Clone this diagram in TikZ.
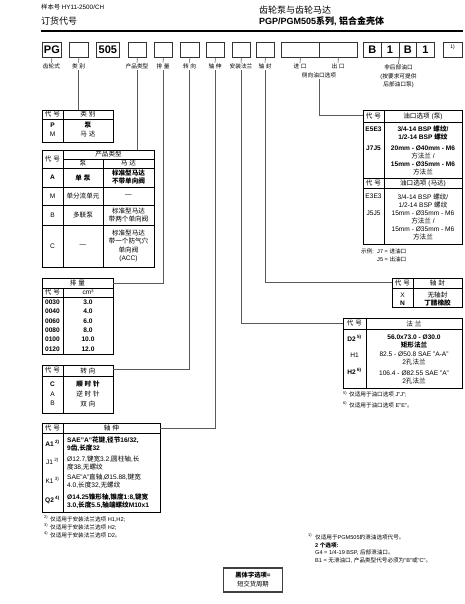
\documentclass[tikz,border=0pt]{standalone}
\usepackage{fontspec}
\setmainfont{Liberation Sans}
\newfontfamily\cjkfam{Noto Sans CJK SC}
\newfontfamily\latfam{Liberation Sans}
\chardef\cjkcls=7
\newcount\cjkc
\cjkc="3000 \loop \XeTeXcharclass\cjkc=\cjkcls \ifnum\cjkc<"303F \advance\cjkc by 1 \repeat
\cjkc="4E00 \loop \XeTeXcharclass\cjkc=\cjkcls \ifnum\cjkc<"9FFF \advance\cjkc by 1 \repeat
\cjkc="FF00 \loop \XeTeXcharclass\cjkc=\cjkcls \ifnum\cjkc<"FFEF \advance\cjkc by 1 \repeat
\XeTeXinterchartoks 0 \cjkcls = {\cjkfam}
\XeTeXinterchartoks 4095 \cjkcls = {\cjkfam}
\XeTeXinterchartoks \cjkcls 0 = {\latfam}
\XeTeXinterchartoks \cjkcls 4095 = {\latfam}
\XeTeXinterchartokenstate=1
\tikzset{
  txt/.style={inner sep=0pt, align=center, text=black, font=\fontsize{6.6}{8}\selectfont},
  bf/.style={font=\fontsize{6.6}{8}\selectfont\bfseries},
  lft/.style={anchor=west, align=left},
  lbl/.style={inner sep=1pt, align=center, font=\fontsize{5.7}{8.5}\selectfont},
  note/.style={inner sep=0pt, anchor=west, font=\fontsize{5.6}{7}\selectfont},
  tbl/.style={draw=black, line width=0.9pt, inner sep=0pt, anchor=north west},
  grid/.style={draw=black, line width=0.5pt},
  conn/.style={draw=black!65, line width=0.6pt},
  codebox/.style={draw=black!80, line width=0.8pt, minimum height=15pt, inner sep=0pt,
    anchor=north west, font=\fontsize{11}{11}\selectfont\bfseries},
}
\begin{document}
\begin{tikzpicture}[x=1pt,y=-1pt]
\useasboundingbox (0,0) rectangle (465,604);
\fill[white] (0,0) rectangle (465,604);

% ---------- header ----------
\node[anchor=west, inner sep=0pt, font=\fontsize{6.3}{7}\selectfont] (hcat) at (41,7.5) {样本号 HY11-2500/CH};
\node[anchor=west, inner sep=0pt, font=\fontsize{9}{10}\selectfont] (hord) at (41,21) {订货代号};
\node[anchor=west, inner sep=0pt, font=\fontsize{9}{10}\selectfont] (htitle) at (259,10.5) {齿轮泵与齿轮马达};
\node[anchor=west, inner sep=0pt, font=\fontsize{9}{10}\selectfont\bfseries] (hsub) at (259,21) {PGP/PGM505系列, 铝合金壳体};
\draw[line width=1.5pt] (41,31) -- (463,31);

% ---------- code boxes ----------
\node[codebox, minimum width=19pt] (bPG) at (42,42) {PG};
\node[codebox, minimum width=19pt] (bCat) at (69,42) {};
\node[codebox, minimum width=23pt] (b505) at (96,42) {505};
\node[codebox, minimum width=18pt] (bType) at (128,42) {};
\node[codebox, minimum width=18pt] (bDisp) at (154,42) {};
\node[codebox, minimum width=19pt] (bRot) at (180,42) {};
\node[codebox, minimum width=18pt] (bShaft) at (206,42) {};
\node[codebox, minimum width=18pt] (bMount) at (232,42) {};
\node[codebox, minimum width=18pt] (bSeal) at (256,42) {};
\node[codebox, minimum width=38pt] (bIn) at (281,42) {};
\node[codebox, minimum width=38pt] (bOut) at (319,42) {};
\node[codebox, minimum width=17.75pt] (bB1) at (363,42) {B};
\node[codebox, minimum width=17.75pt] (bB2) at (380.75,42) {1};
\node[codebox, minimum width=17.75pt] (bB3) at (398.5,42) {B};
\node[codebox, minimum width=17.75pt] (bB4) at (416.25,42) {1};
\node[codebox, minimum width=19pt] (bFn) at (443,42) {};
\node[inner sep=0pt, font=\fontsize{5}{5}\selectfont] (bFnTxt) at (452.5,47.5) {1)};

% ---------- labels under boxes ----------
\node[lbl] (lPG) at (51.5,66.5) {齿轮式};
\node[lbl] (lCat) at (78.5,66.5) {类 别};
\node[lbl] (lType) at (137,66.5) {产品类型};
\node[lbl] (lDisp) at (163,66.5) {排 量};
\node[lbl] (lRot) at (189.5,66.5) {转 向};
\node[lbl] (lShaft) at (215,66.5) {轴 伸};
\node[lbl] (lMount) at (241,66.5) {安装法兰};
\node[lbl] (lSeal) at (265,66.5) {轴 封};
\node[lbl] (lIn) at (300,66.5) {进 口};
\node[lbl] (lOut) at (338,66.5) {出 口};
\node[lbl] (lSide) at (319,75) {侧向油口选项};
\node[lbl] (lRear) at (398.5,76.5) {非后部油口\\(按要求可提供\\后部油口泵)};

\draw[conn] (bPG.south) -- (lPG.north);
\draw[conn] (bCat.south) -- (lCat.north);
\draw[conn] (bType.south) -- (lType.north);
\draw[conn] (bDisp.south) -- (lDisp.north);
\draw[conn] (bRot.south) -- (lRot.north);
\draw[conn] (bShaft.south) -- (lShaft.north);
\draw[conn] (bMount.south) -- (lMount.north);
\draw[conn] (bSeal.south) -- (lSeal.north);
\draw[conn] (bIn.south) -- (lIn.north);
\draw[conn] (bOut.south) -- (lOut.north);
\draw[conn] (bB2.south east) -- (lRear.north);

% ---------- table: category ----------
\node[tbl, minimum width=71pt, minimum height=32pt] (tCat) at (42,110) {};
\draw[grid] (42,119) -- (113,119);
\draw[grid] (63,110) -- (63,142);
\node[txt] (c1h1) at (52.5,114.5) {代 号};
\node[txt] (c1h2) at (88,114.5) {类 别};
\node[txt,bf] (c1a) at (52.5,125.5) {P};
\node[txt,bf] (c1b) at (88,125.5) {泵};
\node[txt] (c1c) at (52.5,134.5) {M};
\node[txt] (c1d) at (88,134.5) {马 达};

% ---------- table: product type ----------
\node[tbl, minimum width=112pt, minimum height=117pt] (tType) at (42,150) {};
\draw[grid] (63,150) -- (63,267);
\draw[grid] (63,159) -- (154,159);
\draw[grid] (103,159) -- (103,267);
\draw[grid] (42,168) -- (154,168);
\draw[grid] (42,187) -- (154,187);
\draw[grid] (42,205) -- (154,205);
\draw[grid] (42,225) -- (154,225);
\node[txt] (c2h) at (52.5,159) {代 号};
\node[txt] (c2t) at (108.5,154.5) {产品类型};
\node[txt] (c2p) at (83,163.5) {泵};
\node[txt] (c2m) at (128.5,163.5) {马 达};
\node[txt,bf] (c2a1) at (52.5,177.5) {A};
\node[txt,bf] (c2a2) at (83,177.5) {单 泵};
\node[txt,bf] (c2a3) at (128.5,177.5) {标准型马达\\不带单向阀};
\node[txt] (c2m1) at (52.5,196) {M};
\node[txt] (c2m2) at (83,196) {单分流单元};
\node[txt] (c2m3) at (128.5,196) {—};
\node[txt] (c2b1) at (52.5,215) {B};
\node[txt] (c2b2) at (83,215) {多联泵};
\node[txt] (c2b3) at (128.5,215) {标准型马达\\带两个单向阀};
\node[txt] (c2c1) at (52.5,246) {C};
\node[txt] (c2c2) at (83,246) {—};
\node[txt, font=\fontsize{6.6}{8.3}\selectfont] (c2c3) at (128.5,246) {标准型马达\\带一个防气穴\\单向阀\\(ACC)};

% ---------- table: displacement ----------
\node[tbl, minimum width=71pt, minimum height=76pt] (tDisp) at (42,278) {};
\draw[grid] (42,288) -- (113,288);
\draw[grid] (42,297) -- (113,297);
\draw[grid] (63,288) -- (63,354);
\node[txt] (c3h) at (77.5,283) {排 量};
\node[txt] (c3h1) at (52.5,292.5) {代 号};
\node[txt] (c3h2) at (88,292.5) {cm³};
\node[txt,bf] (c3r1a) at (52.5,302.3) {0030};
\node[txt,bf] (c3r1b) at (88,302.3) {3.0};
\node[txt,bf] (c3r2a) at (52.5,311.6) {0040};
\node[txt,bf] (c3r2b) at (88,311.6) {4.0};
\node[txt,bf] (c3r3a) at (52.5,320.9) {0060};
\node[txt,bf] (c3r3b) at (88,320.9) {6.0};
\node[txt,bf] (c3r4a) at (52.5,330.2) {0080};
\node[txt,bf] (c3r4b) at (88,330.2) {8.0};
\node[txt,bf] (c3r5a) at (52.5,339.5) {0100};
\node[txt,bf] (c3r5b) at (88,339.5) {10.0};
\node[txt,bf] (c3r6a) at (52.5,348.8) {0120};
\node[txt,bf] (c3r6b) at (88,348.8) {12.0};

% ---------- table: rotation ----------
\node[tbl, minimum width=71pt, minimum height=48pt] (tRot) at (42,365) {};
\draw[grid] (42,376) -- (113,376);
\draw[grid] (63,365) -- (63,413);
\node[txt] (c4h1) at (52.5,370.5) {代 号};
\node[txt] (c4h2) at (88,370.5) {转 向};
\node[txt,bf] (c4r1a) at (52.5,384.5) {C};
\node[txt,bf] (c4r1b) at (88,384.5) {顺 时 针};
\node[txt] (c4r2a) at (52.5,394) {A};
\node[txt] (c4r2b) at (88,394) {逆 时 针};
\node[txt] (c4r3a) at (52.5,403.5) {B};
\node[txt] (c4r3b) at (88,403.5) {双 向};

% ---------- table: shaft ----------
\node[tbl, minimum width=118pt, minimum height=89pt] (tShaft) at (42,423) {};
\draw[grid] (42,433) -- (160,433);
\draw[grid] (63,423) -- (63,512);
\node[txt] (c5h1) at (52.5,428) {代 号};
\node[txt] (c5h2) at (111.5,428) {轴 伸};
\node[txt,bf] (c5r1a) at (52.5,443) {A1\textsuperscript{ 2)}};
\node[txt,bf,lft] (c5r1b) at (67,444.5) {SAE"A"花键,径节16/32,\\9齿,长度32};
\node[txt] (c5r2a) at (52.5,461.5) {J1\textsuperscript{ 2)}};
\node[txt,lft] (c5r2b) at (67,463) {Ø12.7,键宽3.2,圆柱轴,长\\度38,无螺纹};
\node[txt] (c5r3a) at (52.5,480) {K1\textsuperscript{ 3)}};
\node[txt,lft] (c5r3b) at (67,481.5) {SAE"A"直轴,Ø15.88,键宽\\4.0,长度32,无螺纹};
\node[txt,bf] (c5r4a) at (52.5,499.5) {Q2\textsuperscript{ 4)}};
\node[txt,bf,lft] (c5r4b) at (67,501.5) {Ø14.25锥形轴,锥度1:8,键宽\\3.0,长度5.5,轴端螺纹M10x1};
\node[note] (n2s) at (44,518.5) {\textsuperscript{2)}};
\node[note] (n2) at (50,519) {仅适用于安装法兰选项 H1,H2;};
\node[note] (n3s) at (44,526.5) {\textsuperscript{3)}};
\node[note] (n3) at (50,527) {仅适用于安装法兰选项 H2;};
\node[note] (n4s) at (44,534.5) {\textsuperscript{4)}};
\node[note] (n4) at (50,535) {仅适用于安装法兰选项 D2。};

% ---------- table: port options ----------
\node[tbl, minimum width=99pt, minimum height=134pt] (tPort) at (363,110) {};
\draw[grid] (363,122) -- (462,122);
\draw[grid] (363,178) -- (462,178);
\draw[grid] (363,188) -- (462,188);
\draw[grid] (384,110) -- (384,244);
\node[txt] (c6h1) at (373.5,116) {代 号};
\node[txt] (c6h2) at (423,116) {油口选项 (泵)};
\node[txt,bf] (c6r1a) at (373.5,129) {E5E3};
\node[txt,bf] (c6r1b) at (423,133) {3/4-14 BSP 螺纹/\\1/2-14 BSP 螺纹};
\node[txt,bf] (c6r2a) at (373.5,148.2) {J7J5};
\node[txt] (c6r2b) at (423,160.2) {\textbf{20mm - Ø40mm - M6}\\方法兰 /\\\textbf{15mm - Ø35mm - M6}\\方法兰};
\node[txt] (c6h3) at (373.5,183) {代 号};
\node[txt] (c6h4) at (423,183) {油口选项 (马达)};
\node[txt] (c6r3a) at (373.5,196.5) {E3E3};
\node[txt] (c6r3b) at (423,200.5) {3/4-14 BSP 螺纹/\\1/2-14 BSP 螺纹};
\node[txt] (c6r4a) at (373.5,213) {J5J5};
\node[txt] (c6r4b) at (423,225) {15mm - Ø35mm - M6\\方法兰 /\\15mm - Ø35mm - M6\\方法兰};
\node[note] (ex0) at (361,251.5) {示例:};
\node[note] (ex1) at (377,251.5) {J7 = 进油口};
\node[note] (ex2) at (377,259.5) {J5 = 出油口};

% ---------- table: shaft seal ----------
\node[tbl, minimum width=70pt, minimum height=29pt] (tSeal) at (392,278) {};
\draw[grid] (392,288) -- (462,288);
\draw[grid] (413,278) -- (413,307);
\node[txt] (c7h1) at (402.5,283) {代 号};
\node[txt] (c7h2) at (437.5,283) {轴 封};
\node[txt] (c7r1a) at (402.5,295) {X};
\node[txt] (c7r1b) at (437.5,295) {无轴封};
\node[txt,bf] (c7r2a) at (402.5,303) {N};
\node[txt,bf] (c7r2b) at (437.5,303) {丁腈橡胶};

% ---------- table: mounting flange ----------
\node[tbl, minimum width=119pt, minimum height=70pt] (tMount) at (343,318) {};
\draw[grid] (343,329) -- (462,329);
\draw[grid] (366,318) -- (366,388);
\node[txt] (c8h1) at (354.5,323.5) {代 号};
\node[txt] (c8h2) at (414,323.5) {法 兰};
\node[txt,bf] (c8r1a) at (354.5,338) {D2\textsuperscript{ 5)}};
\node[txt,bf] (c8r1b) at (414,341.8) {56.0x73.0 - Ø30.0\\矩形法兰};
\node[txt] (c8r2a) at (354.5,355) {H1};
\node[txt] (c8r2b) at (414,358.8) {82.5 - Ø50.8 SAE "A-A"\\2孔法兰};
\node[txt,bf] (c8r3a) at (354.5,371) {H2\textsuperscript{ 6)}};
\node[txt] (c8r3b) at (414,377) {106.4 - Ø82.55 SAE "A"\\2孔法兰};
\node[note] (n5s) at (343,394.5) {\textsuperscript{5)}};
\node[note] (n5) at (349,395) {仅适用于油口选项 J"J";};
\node[note] (n6s) at (343,404.5) {\textsuperscript{6)}};
\node[note] (n6) at (349,405) {仅适用于油口选项 E"E"。};

% ---------- connectors to tables ----------
\coordinate (dispIn) at (113,283);
\coordinate (rotIn) at (113,369.5);
\coordinate (shaftIn) at (160,428);
\coordinate (mountIn) at (343,323);
\coordinate (sealIn) at (392,282);
\coordinate (portIn) at (363,115);
\draw[conn] (lCat.south) -- (lCat.south |- tCat.north);
\draw[conn] (lType.south) -- (lType.south |- tType.north);
\draw[conn] (lDisp.south) |- (dispIn);
\draw[conn] (lRot.south) |- (rotIn);
\draw[conn] (lShaft.south) |- (shaftIn);
\draw[conn] (lMount.south) |- (mountIn);
\draw[conn] (lSeal.south) |- (sealIn);
\draw[conn] (lSide.south) |- (portIn);

% ---------- footnote 1 ----------
\node[note] (n1s) at (308,536.5) {\textsuperscript{1)}};
\node[note] (n1) at (315,537) {仅适用于PGM505的泄油选项代号。};
\node[note, font=\fontsize{5.6}{7}\selectfont\bfseries] (n1a) at (315,545) {2 个选项:};
\node[note] (n1b) at (315,552.5) {G4 = 1/4-19 BSP, 后部泄油口。};
\node[note] (n1c) at (315,560) {B1 = 无泄油口, 产品类型代号必须为"B"或"C"。};

% ---------- bold legend ----------
\node[draw=black!75, line width=1.2pt, minimum width=59pt, minimum height=24pt, inner sep=0pt,
  align=center, font=\fontsize{6.3}{9}\selectfont] (legend) at (253,580) {\textbf{黑体字选项=}\\短交货周期};
\end{tikzpicture}
\end{document}
